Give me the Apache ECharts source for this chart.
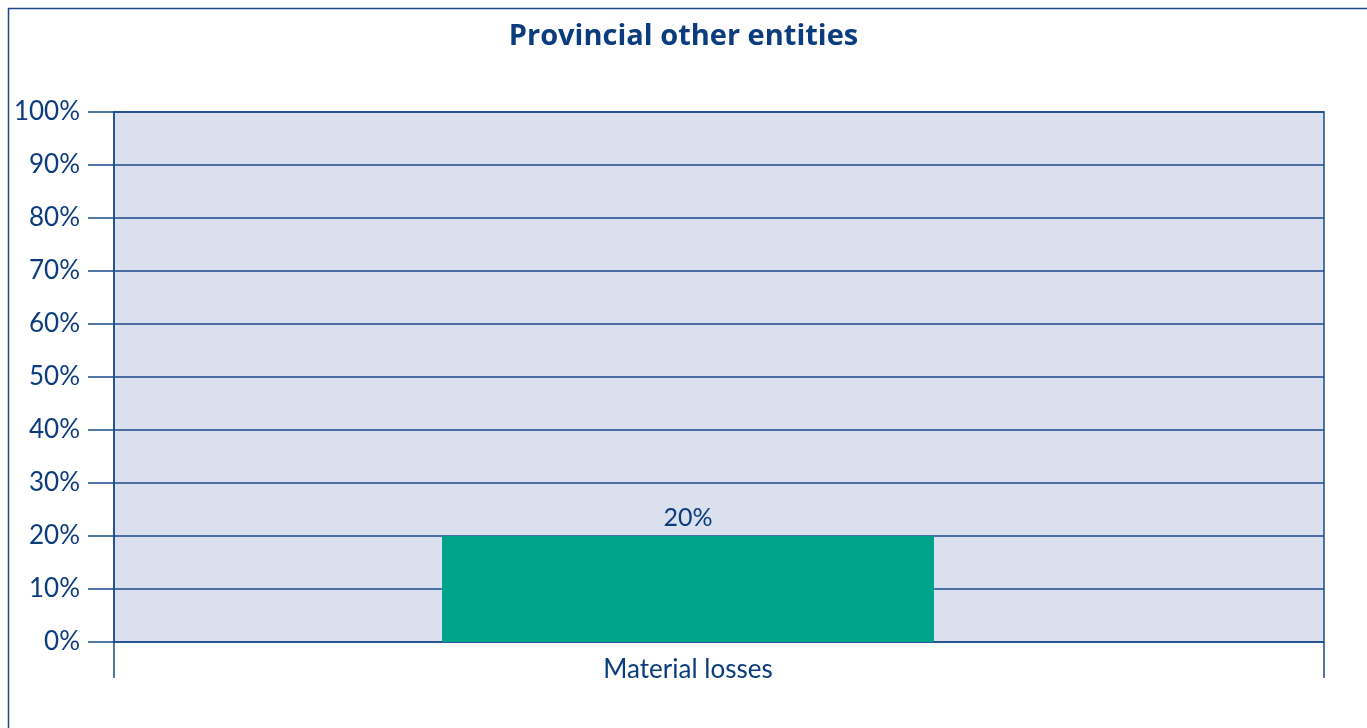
<!DOCTYPE html>
<html>
<head>
<meta charset="utf-8">
<script src="https://cdn.jsdelivr.net/npm/echarts@6/dist/echarts.min.js"></script>
<style>
html,body{margin:0;padding:0;background:#fff;}
#chart{width:1367px;height:728px;}
</style>
</head>
<body>
<div id="chart"></div>
<script>
const titleText = 'Provincial other entities';
const categories = ['Material losses'];
const values = [20];
const yMin = 0, yMax = 100, yStep = 10;

const navy = '#0b3c7d';
const lineCol = '#1b4a8c';
const fontFam = 'Lato, "Open Sans", sans-serif';

const chart = echarts.init(document.getElementById('chart'), null, {renderer: 'canvas'});
chart.setOption({
  animation: false,
  backgroundColor: '#ffffff',
  title: {
    text: titleText,
    left: 'center',
    top: 17,
    textStyle: {color: navy, fontFamily: '"Open Sans", sans-serif', fontWeight: 'bold', fontSize: 29}
  },
  graphic: [{
    type: 'rect', silent: true, z: -1,
    shape: {x: 8.5, y: 8.5, width: 1420, height: 800},
    style: {fill: 'none', stroke: lineCol, lineWidth: 1.5}
  }],
  grid: [
    {left: 114, right: 43, top: 112, bottom: 86, show: true, backgroundColor: '#dae0ed', borderColor: lineCol, borderWidth: 1.5},
    {left: 114, right: 105, top: 112, bottom: 86, show: false}
  ],
  xAxis: [
    {
      gridIndex: 0, type: 'category', data: categories,
      axisLine: {show: false},
      axisTick: {show: true, length: 36, lineStyle: {color: lineCol, width: 1.5}},
      axisLabel: {show: false},
      splitLine: {show: false}
    },
    {
      gridIndex: 1, type: 'category', data: categories,
      axisLine: {show: false}, axisTick: {show: false},
      axisLabel: {show: true, margin: 15, color: navy, fontFamily: fontFam, fontSize: 26}
    }
  ],
  yAxis: [
    {
      gridIndex: 0, type: 'value', min: yMin, max: yMax, interval: yStep,
      axisLine: {show: true, lineStyle: {color: lineCol, width: 1.5}},
      axisTick: {show: true, length: 26, lineStyle: {color: lineCol, width: 1.5}},
      axisLabel: {margin: 34, color: navy, fontFamily: fontFam, fontSize: 26, formatter: '{value}%'},
      splitLine: {show: true, lineStyle: {color: lineCol, width: 1.5}}
    },
    {
      gridIndex: 1, type: 'value', min: yMin, max: yMax, interval: yStep, show: false,
      splitLine: {show: false}
    }
  ],
  series: [{
    type: 'bar', xAxisIndex: 1, yAxisIndex: 1,
    data: values, barWidth: 492,
    itemStyle: {color: '#00a389'},
    label: {show: true, position: 'top', distance: 6, formatter: '{c}%', color: navy, fontFamily: fontFam, fontSize: 25}
  }]
});
</script>
</body>
</html>
